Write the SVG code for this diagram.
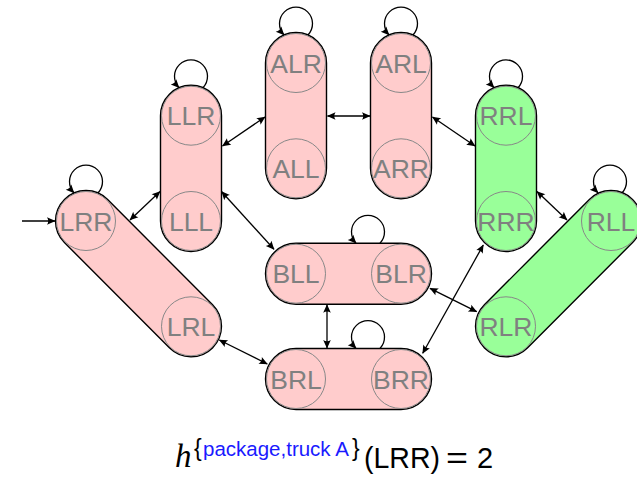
<svg xmlns="http://www.w3.org/2000/svg" width="637" height="479" viewBox="0 0 637 479">
  <style>
    .cap { stroke: #000; stroke-width: 1.4; }
    .red { fill: #ffcccc; }
    .grn { fill: #99ff99; }
    .st { fill: none; stroke: #888; stroke-width: 1; }
    .lbl { font-family: "Liberation Sans", Arial, sans-serif; font-size: 26.5px; fill: #808080; text-anchor: middle; }
    .edge { fill: none; stroke: #000; stroke-width: 1.3; marker-start: url(#tip); marker-end: url(#tip); }
    .loop { fill: none; stroke: #000; stroke-width: 1.3; marker-end: url(#tip); }
    .init { fill: none; stroke: #000; stroke-width: 1.3; marker-end: url(#tip); }
    .math { font-family: "Liberation Sans", Arial, sans-serif; fill: #000; }
  </style>
  <defs>
    <marker id="tip" viewBox="-9 -5 10 10" markerWidth="10" markerHeight="10" refX="0" refY="0" orient="auto-start-reverse" markerUnits="userSpaceOnUse">
      <path d="M0.5,0 L-8,-3.8 Q-5.5,0 -8,3.8 Z" fill="#000"/>
    </marker>
  </defs>

  <!-- state groups: each capsule holds two states -->
  <g id="grp-LRR-LRL">
    <rect class="cap red" x="33.65" y="243.15" width="209.7" height="61" rx="30.5" transform="rotate(45.1 138.5 273.65)"/>
    <g id="LRR"><circle class="st" cx="86" cy="221" r="29.5"/><text class="lbl" x="86" y="230.5">LRR</text></g>
    <g id="LRL"><circle class="st" cx="191" cy="326.3" r="29.5"/><text class="lbl" x="191" y="335.8">LRL</text></g>
  </g>
  <g id="grp-LLR-LLL">
    <rect class="cap red" x="160.5" y="85.2" width="61" height="166.3" rx="30.5"/>
    <g id="LLR"><circle class="st" cx="191" cy="115.7" r="29.5"/><text class="lbl" x="191" y="125.2">LLR</text></g>
    <g id="LLL"><circle class="st" cx="191" cy="221" r="29.5"/><text class="lbl" x="191" y="230.5">LLL</text></g>
  </g>
  <g id="grp-ALR-ALL">
    <rect class="cap red" x="265.5" y="32.5" width="61" height="166.3" rx="30.5"/>
    <g id="ALR"><circle class="st" cx="296" cy="63" r="29.5"/><text class="lbl" x="296" y="72.5">ALR</text></g>
    <g id="ALL"><circle class="st" cx="296" cy="168.3" r="29.5"/><text class="lbl" x="296" y="177.8">ALL</text></g>
  </g>
  <g id="grp-ARL-ARR">
    <rect class="cap red" x="370.5" y="32.5" width="61" height="166.3" rx="30.5"/>
    <g id="ARL"><circle class="st" cx="401" cy="63" r="29.5"/><text class="lbl" x="401" y="72.5">ARL</text></g>
    <g id="ARR"><circle class="st" cx="401" cy="168.3" r="29.5"/><text class="lbl" x="401" y="177.8">ARR</text></g>
  </g>
  <g id="grp-RRL-RRR">
    <rect class="cap grn" x="475.5" y="85.2" width="61" height="166.3" rx="30.5"/>
    <g id="RRL"><circle class="st" cx="506" cy="115.7" r="29.5"/><text class="lbl" x="506" y="125.2">RRL</text></g>
    <g id="RRR"><circle class="st" cx="506" cy="221" r="29.5"/><text class="lbl" x="506" y="230.5">RRR</text></g>
  </g>
  <g id="grp-RLL-RLR">
    <rect class="cap grn" x="453.65" y="243.15" width="209.7" height="61" rx="30.5" transform="rotate(-45.1 558.5 273.65)"/>
    <g id="RLL"><circle class="st" cx="611" cy="221" r="29.5"/><text class="lbl" x="611" y="230.5">RLL</text></g>
    <g id="RLR"><circle class="st" cx="506" cy="326.3" r="29.5"/><text class="lbl" x="506" y="335.8">RLR</text></g>
  </g>
  <g id="grp-BLL-BLR">
    <rect class="cap red" x="265.5" y="243.2" width="166" height="61" rx="30.5"/>
    <g id="BLL"><circle class="st" cx="296" cy="273.7" r="29.5"/><text class="lbl" x="296" y="283.2">BLL</text></g>
    <g id="BLR"><circle class="st" cx="401" cy="273.7" r="29.5"/><text class="lbl" x="401" y="283.2">BLR</text></g>
  </g>
  <g id="grp-BRL-BRR">
    <rect class="cap red" x="265.5" y="348.5" width="166" height="61" rx="30.5"/>
    <g id="BRL"><circle class="st" cx="296" cy="379" r="29.5"/><text class="lbl" x="296" y="388.5">BRL</text></g>
    <g id="BRR"><circle class="st" cx="401" cy="379" r="29.5"/><text class="lbl" x="401" y="388.5">BRR</text></g>
  </g>

  <!-- transitions -->
  <g id="connectors">
    <line class="init" x1="22" y1="221" x2="55" y2="221"/>
    <line class="edge" x1="130" y1="220" x2="160" y2="191.5"/>
    <line class="edge" x1="222.5" y1="146" x2="265" y2="117"/>
    <line class="edge" x1="327.5" y1="116" x2="370" y2="116"/>
    <line class="edge" x1="432.5" y1="117" x2="475" y2="146"/>
    <line class="edge" x1="537" y1="191.5" x2="567" y2="220"/>
    <line class="edge" x1="483.3" y1="245" x2="422.7" y2="353.3"/>
    <line class="edge" x1="430" y1="288.3" x2="476.7" y2="311.7"/>
    <line class="edge" x1="327" y1="304.8" x2="327" y2="348"/>
    <line class="edge" x1="221.7" y1="191.7" x2="274" y2="249.3"/>
    <line class="edge" x1="219.3" y1="340" x2="267.3" y2="364"/>
    <!-- self loops -->
    <path class="loop" d="M98,193 A16.5,16.5 0 1 0 74,193"/>
    <path class="loop" d="M203,87.7 A16.5,16.5 0 1 0 179,87.7"/>
    <path class="loop" d="M308,35 A16.5,16.5 0 1 0 284,35"/>
    <path class="loop" d="M413,35 A16.5,16.5 0 1 0 389,35"/>
    <path class="loop" d="M518,87.7 A16.5,16.5 0 1 0 494,87.7"/>
    <path class="loop" d="M622,193 A16.5,16.5 0 1 0 598,193"/>
    <path class="loop" d="M380,243.2 A16.5,16.5 0 1 0 356,243.2"/>
    <path class="loop" d="M380,348.5 A16.5,16.5 0 1 0 356,348.5"/>
  </g>

  <!-- caption formula -->
  <g id="caption">
    <text x="175" y="467" font-family="Liberation Serif, serif" font-style="italic" font-size="33" fill="#000">h</text>
    <text class="math" x="194" y="456" font-size="23">{</text>
    <text x="203" y="456" font-family="Liberation Sans, Arial, sans-serif" font-size="20.5" fill="#1a1aff">package,truck A</text>
    <text class="math" x="352" y="456" font-size="23">}</text>
    <text class="math" x="364" y="468" font-size="29" textLength="76" lengthAdjust="spacingAndGlyphs">(LRR)</text>
    <text class="math" x="446" y="468" font-size="29" textLength="22" lengthAdjust="spacingAndGlyphs">=</text>
    <text class="math" x="477" y="468" font-size="29">2</text>
  </g>
</svg>
